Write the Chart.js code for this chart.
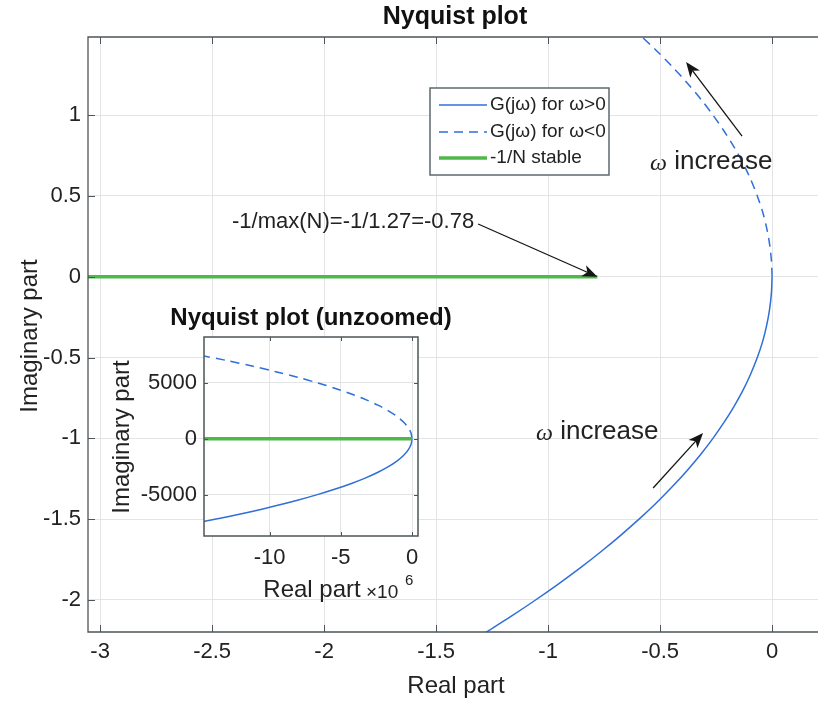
<!DOCTYPE html>
<html><head><meta charset="utf-8">
<script src="https://cdn.jsdelivr.net/npm/chart.js@4.4.0/dist/chart.umd.min.js"></script>
<style>
html,body{margin:0;padding:0;background:#fff;}
#wrap{position:relative;width:818px;height:704px;overflow:hidden;}
#main{position:absolute;left:0;top:0;}
#inset{position:absolute;left:100px;top:290px;}
</style></head><body>
<div id="wrap">
<canvas id="main" width="818" height="704"></canvas>
<canvas id="inset" width="360" height="320"></canvas>
</div>
<script>
// ---------- data ----------
const mainXTicks = [-3, -2.5, -2, -1.5, -1, -0.5, 0];
const mainXTickLabels = ['-3', '-2.5', '-2', '-1.5', '-1', '-0.5', '0'];
const mainYTicks = [-2, -1.5, -1, -0.5, 0, 0.5, 1];
const mainYTickLabels = ['-2', '-1.5', '-1', '-0.5', '0', '0.5', '1'];

// G(jw) for w>0 (solid)
const posImag = [0, -0.1, -0.2, -0.3, -0.4, -0.5, -0.6, -0.7, -0.8, -0.9, -1.0, -1.1, -1.2, -1.3, -1.4, -1.5, -1.6, -1.7, -1.8, -1.9, -2.0, -2.1, -2.2];
const posReal = [0, -0.003, -0.011, -0.024, -0.042, -0.066, -0.095, -0.129, -0.169, -0.214, -0.264, -0.319, -0.380, -0.446, -0.517, -0.594, -0.676, -0.763, -0.855, -0.953, -1.056, -1.164, -1.278];
// G(jw) for w<0 (dashed)
const negImag = [0, 0.1, 0.2, 0.3, 0.4, 0.5, 0.6, 0.7, 0.8, 0.9, 1.0, 1.1, 1.2, 1.3, 1.4, 1.5];
const negReal = [0, -0.003, -0.011, -0.024, -0.042, -0.066, -0.095, -0.129, -0.169, -0.214, -0.264, -0.319, -0.380, -0.446, -0.517, -0.594];
// -1/N stable
const stableReal = [-3.06, -0.78];
const stableImag = [0, 0];

// inset (real part in units of 1e6)
const insetXTicks = [-10, -5, 0];
const insetXTickLabels = ['-10', '-5', '0'];
const insetYTicks = [-5000, 0, 5000];
const insetYTickLabels = ['-5000', '0', '5000'];
const insetPosImag = [0, -500, -1000, -1500, -2000, -2500, -3000, -3500, -4000, -4500, -5000, -5500, -6000, -6500, -7000, -7400];
const insetPosReal = [0, -0.066, -0.266, -0.598, -1.063, -1.66, -2.39, -3.25, -4.25, -5.38, -6.64, -8.04, -9.57, -11.23, -13.02, -14.6];
const insetNegImag = [0, 500, 1000, 1500, 2000, 2500, 3000, 3500, 4000, 4500, 5000, 5500, 6000, 6500, 7000, 7400];
const insetNegReal = [0, -0.066, -0.266, -0.598, -1.063, -1.66, -2.39, -3.25, -4.25, -5.38, -6.64, -8.04, -9.57, -11.23, -13.02, -14.6];
const insetStableReal = [-14.6, 0];
const insetStableImag = [0, 0];

const legendLabels = ['G(j\u03c9) for \u03c9>0', 'G(j\u03c9) for \u03c9<0', '-1/N stable'];

// ---------- styles ----------
const FONT = "'Liberation Sans', Arial, Helvetica, sans-serif";
const BLUE = '#2f6fd8';
const GREEN = '#4fb848';
const GRID = '#e2e4e6';
const AXIS = '#4e5458';
const TXT = '#222222';

function pts(xs, ys) { return xs.map((x, i) => ({x: x, y: ys[i]})); }

function arrow(ctx, x1, y1, x2, y2) {
  ctx.save();
  ctx.strokeStyle = '#151515'; ctx.fillStyle = '#151515'; ctx.lineWidth = 1.3;
  const a = Math.atan2(y2 - y1, x2 - x1), c = Math.cos(a), s = Math.sin(a);
  const L = 15, W = 6, back = 11;
  const bx = x2 - c * back, by = y2 - s * back;
  ctx.beginPath(); ctx.moveTo(x1, y1); ctx.lineTo(bx, by); ctx.stroke();
  ctx.beginPath(); ctx.moveTo(x2, y2);
  ctx.lineTo(x2 - c * L + s * W, y2 - s * L - c * W);
  ctx.lineTo(bx, by);
  ctx.lineTo(x2 - c * L - s * W, y2 - s * L + c * W);
  ctx.closePath(); ctx.fill();
  ctx.restore();
}

function omegaText(ctx, x, y, size) {
  ctx.save();
  ctx.fillStyle = TXT; ctx.textBaseline = 'middle'; ctx.textAlign = 'left';
  ctx.font = 'italic ' + (size - 2) + "px 'Liberation Serif', serif";
  ctx.fillText('\u03c9', x, y + 2);
  const w = ctx.measureText('\u03c9').width;
  ctx.font = size + 'px ' + FONT;
  ctx.fillText(' increase', x + w, y);
  ctx.restore();
}

// annotation anchors in data units
const notes = {
  limitText: {x: -2.411, y: 0.338, text: '-1/max(N)=-1/1.27=-0.78'},
  limitArrow: {x1: -1.3125, y1: 0.326, x2: -0.78, y2: 0.0},
  upText: {x: -0.545, y: 0.709},
  upArrow: {x1: -0.134, y1: 0.870, x2: -0.384, y2: 1.328},
  lowText: {x: -1.054, y: -0.961},
  lowArrow: {x1: -0.531, y1: -1.307, x2: -0.308, y2: -0.967}
};

const mainPlugin = {
  id: 'mainDeco',
  beforeDraw(chart) {
    const ctx = chart.ctx;
    ctx.save(); ctx.fillStyle = '#fff'; ctx.fillRect(0, 0, chart.width, chart.height); ctx.restore();
  },
  afterDatasetsDraw(chart) {
    const ctx = chart.ctx, a = chart.chartArea, xs = chart.scales.x, ys = chart.scales.y;
    ctx.save();
    // axis box (left, top, bottom)
    ctx.strokeStyle = AXIS; ctx.lineWidth = 1.3;
    ctx.beginPath();
    ctx.moveTo(a.right + 1, a.top); ctx.lineTo(a.left, a.top); ctx.lineTo(a.left, a.bottom); ctx.lineTo(a.right + 1, a.bottom);
    ctx.stroke();
    // inner ticks
    ctx.lineWidth = 1;
    ctx.beginPath();
    mainXTicks.forEach(v => {
      const px = Math.round(xs.getPixelForValue(v)) + 0.5;
      ctx.moveTo(px, a.bottom); ctx.lineTo(px, a.bottom - 7);
      ctx.moveTo(px, a.top); ctx.lineTo(px, a.top + 7);
    });
    mainYTicks.forEach(v => {
      const py = Math.round(ys.getPixelForValue(v)) + 0.5;
      ctx.moveTo(a.left, py); ctx.lineTo(a.left + 7, py);
    });
    ctx.stroke();

    // legend
    const lx = 430, ly = 88, lw = 179, lh = 87;
    ctx.fillStyle = '#fff'; ctx.fillRect(lx, ly, lw, lh);
    ctx.strokeStyle = '#5d686e'; ctx.lineWidth = 1.5; ctx.strokeRect(lx, ly, lw, lh);
    const rows = [ly + 17, ly + 44, ly + 70];
    const styles = [
      {c: BLUE, w: 1.5, d: []},
      {c: BLUE, w: 1.5, d: [9, 6]},
      {c: GREEN, w: 3.5, d: []}
    ];
    rows.forEach((ry, i) => {
      ctx.save();
      ctx.strokeStyle = styles[i].c; ctx.lineWidth = styles[i].w; ctx.setLineDash(styles[i].d);
      ctx.beginPath(); ctx.moveTo(lx + 9, ry); ctx.lineTo(lx + 57, ry); ctx.stroke();
      ctx.restore();
      ctx.fillStyle = TXT; ctx.font = '19px ' + FONT; ctx.textBaseline = 'middle'; ctx.textAlign = 'left';
      ctx.fillText(legendLabels[i], lx + 60, ry);
    });

    // annotations
    ctx.fillStyle = TXT; ctx.font = '22px ' + FONT; ctx.textBaseline = 'middle'; ctx.textAlign = 'left';
    ctx.fillText(notes.limitText.text, xs.getPixelForValue(notes.limitText.x), ys.getPixelForValue(notes.limitText.y));
    [notes.limitArrow, notes.upArrow, notes.lowArrow].forEach(n => {
      arrow(ctx, xs.getPixelForValue(n.x1), ys.getPixelForValue(n.y1), xs.getPixelForValue(n.x2), ys.getPixelForValue(n.y2));
    });
    omegaText(ctx, xs.getPixelForValue(notes.upText.x), ys.getPixelForValue(notes.upText.y), 26);
    omegaText(ctx, xs.getPixelForValue(notes.lowText.x), ys.getPixelForValue(notes.lowText.y), 26);

    // title and axis labels
    ctx.fillStyle = '#111'; ctx.textAlign = 'center'; ctx.textBaseline = 'middle';
    ctx.font = 'bold 25px ' + FONT;
    ctx.fillText('Nyquist plot', 455, 17);
    ctx.fillStyle = TXT; ctx.font = '24px ' + FONT;
    ctx.fillText('Real part', 456, 686);
    ctx.save(); ctx.translate(30, 336); ctx.rotate(-Math.PI / 2);
    ctx.fillText('Imaginary part', 0, 0);
    ctx.restore();
    ctx.restore();
  }
};

const mainChart = new Chart(document.getElementById('main'), {
  type: 'scatter',
  data: {
    datasets: [
      {label: legendLabels[2], data: pts(stableReal, stableImag), showLine: true, borderColor: GREEN, borderWidth: 3.5, pointRadius: 0},
      {label: legendLabels[0], data: pts(posReal, posImag), showLine: true, borderColor: BLUE, borderWidth: 1.5, pointRadius: 0, tension: 0.3},
      {label: legendLabels[1], data: pts(negReal, negImag), showLine: true, borderColor: BLUE, borderWidth: 1.5, borderDash: [9, 6], pointRadius: 0, tension: 0.3}
    ]
  },
  options: {
    responsive: false, animation: false, devicePixelRatio: 1,
    layout: {padding: {top: 37, right: 0, left: 0, bottom: 0}},
    plugins: {legend: {display: false}, title: {display: false}, tooltip: {enabled: false}},
    scales: {
      x: {
        type: 'linear', min: -3.054, max: 0.205,
        afterBuildTicks: s => { s.ticks = mainXTicks.map(v => ({value: v})); },
        afterFit: s => { s.height = 72; },
        grid: {color: GRID, drawTicks: false, lineWidth: 1},
        border: {display: false},
        ticks: {font: {family: FONT, size: 22}, color: TXT, padding: 7, maxRotation: 0, autoSkip: false,
          callback: (v, i) => mainXTickLabels[i]}
      },
      y: {
        type: 'linear', min: -2.198, max: 1.483,
        afterBuildTicks: s => { s.ticks = mainYTicks.map(v => ({value: v})); },
        afterFit: s => { s.width = 88; },
        grid: {color: GRID, drawTicks: false, lineWidth: 1},
        border: {display: false},
        ticks: {font: {family: FONT, size: 22}, color: TXT, padding: 7, autoSkip: false,
          callback: (v, i) => mainYTickLabels[i]}
      }
    }
  },
  plugins: [mainPlugin]
});

// ---------- inset ----------
const insetPlugin = {
  id: 'insetDeco',
  beforeDraw(chart) {
    const a = chart.chartArea, ctx = chart.ctx;
    ctx.save(); ctx.fillStyle = '#fff'; ctx.fillRect(a.left, a.top, a.right - a.left, a.bottom - a.top); ctx.restore();
  },
  afterDatasetsDraw(chart) {
    const ctx = chart.ctx, a = chart.chartArea, xs = chart.scales.x, ys = chart.scales.y;
    ctx.save();
    ctx.strokeStyle = AXIS; ctx.lineWidth = 1.5;
    ctx.strokeRect(a.left, a.top, a.right - a.left, a.bottom - a.top);
    ctx.lineWidth = 1;
    ctx.beginPath();
    insetXTicks.forEach(v => {
      const px = Math.round(xs.getPixelForValue(v)) + 0.5;
      ctx.moveTo(px, a.bottom); ctx.lineTo(px, a.bottom - 4);
      ctx.moveTo(px, a.top); ctx.lineTo(px, a.top + 4);
    });
    insetYTicks.forEach(v => {
      const py = Math.round(ys.getPixelForValue(v)) + 0.5;
      ctx.moveTo(a.left, py); ctx.lineTo(a.left + 4, py);
      ctx.moveTo(a.right, py); ctx.lineTo(a.right - 4, py);
    });
    ctx.stroke();
    ctx.fillStyle = '#111'; ctx.textAlign = 'center'; ctx.textBaseline = 'middle';
    ctx.font = 'bold 24px ' + FONT;
    ctx.fillText('Nyquist plot (unzoomed)', (a.left + a.right) / 2, 28);
    ctx.fillStyle = TXT; ctx.font = '24px ' + FONT;
    ctx.fillText('Real part', 212, 300);
    ctx.textAlign = 'left';
    ctx.font = '19px ' + FONT;
    ctx.fillText('\u00d710', 266, 303);
    ctx.font = '15px ' + FONT;
    ctx.fillText('6', 305, 291);
    ctx.textAlign = 'center'; ctx.font = '24px ' + FONT;
    ctx.save(); ctx.translate(22, 147); ctx.rotate(-Math.PI / 2);
    ctx.fillText('Imaginary part', 0, 0);
    ctx.restore();
    ctx.restore();
  }
};

const insetChart = new Chart(document.getElementById('inset'), {
  type: 'scatter',
  data: {
    datasets: [
      {data: pts(insetStableReal, insetStableImag), showLine: true, borderColor: GREEN, borderWidth: 3.5, pointRadius: 0},
      {data: pts(insetPosReal, insetPosImag), showLine: true, borderColor: BLUE, borderWidth: 1.5, pointRadius: 0, tension: 0.3},
      {data: pts(insetNegReal, insetNegImag), showLine: true, borderColor: BLUE, borderWidth: 1.5, borderDash: [9, 6], pointRadius: 0, tension: 0.3}
    ]
  },
  options: {
    responsive: false, animation: false, devicePixelRatio: 1,
    layout: {padding: {top: 47, right: 42, left: 0, bottom: 0}},
    plugins: {legend: {display: false}, title: {display: false}, tooltip: {enabled: false}},
    scales: {
      x: {
        type: 'linear', min: -14.6, max: 0.42,
        afterBuildTicks: s => { s.ticks = insetXTicks.map(v => ({value: v})); },
        afterFit: s => { s.height = 74; },
        grid: {color: GRID, drawTicks: false},
        border: {display: false},
        ticks: {font: {family: FONT, size: 22}, color: TXT, padding: 9, maxRotation: 0, autoSkip: false,
          callback: (v, i) => insetXTickLabels[i]}
      },
      y: {
        type: 'linear', min: -8700, max: 9100,
        afterBuildTicks: s => { s.ticks = insetYTicks.map(v => ({value: v})); },
        afterFit: s => { s.width = 104; },
        grid: {color: GRID, drawTicks: false},
        border: {display: false},
        ticks: {font: {family: FONT, size: 22}, color: TXT, padding: 7, autoSkip: false,
          callback: (v, i) => insetYTickLabels[i]}
      }
    }
  },
  plugins: [insetPlugin]
});
</script>
</body></html>
